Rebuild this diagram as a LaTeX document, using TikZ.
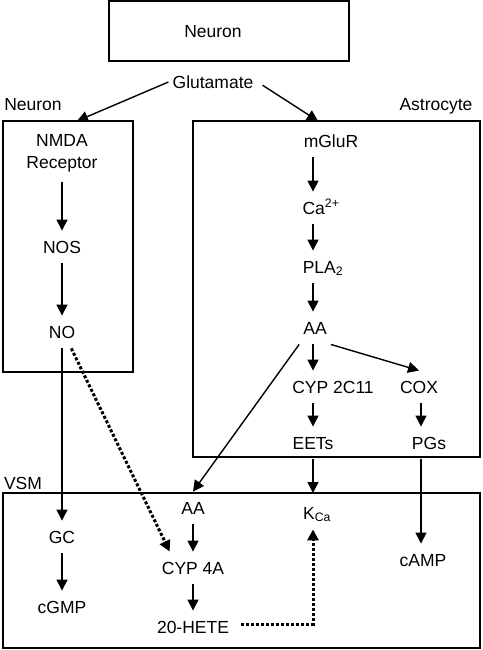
\documentclass[tikz,border=0pt]{standalone}
\usepackage{fontspec}
\setmainfont{Liberation Sans}
\usetikzlibrary{arrows.meta}

\begin{document}
\begin{tikzpicture}[x=1pt, y=-1pt, >={Triangle[width=11pt, length=11pt]},
    txt/.style={font=\fontsize{17.5pt}{22pt}\selectfont, inner xsep=4pt, inner ysep=10pt},
    lbl/.style={txt, text height=12.5pt, text depth=0pt},
    box/.style={draw, line width=2pt, outer sep=0pt, inner sep=0pt},
    flow/.style={->, line width=1.4pt},
    dotflow/.style={->, line width=3pt, dash pattern=on 3pt off 2pt}]
    \useasboundingbox (0,0) rectangle (482,650);

    % Define boxes
    \node[box, minimum width=240pt, minimum height=60pt] (topbox) at (229,31) {};
    \node[box, minimum width=130pt, minimum height=251pt] (neuronbox) at (68,246.5) {};
    \node[box, minimum width=287pt, minimum height=336pt] (astrobox) at (336.5,289) {};
    \node[box, minimum width=477pt, minimum height=155pt] (vsmbox) at (241.5,570.5) {};

    % Region labels
    \node[lbl] (topneuron) at (213,31) {Neuron};
    \node[lbl] (neuronlbl) at (33,104) {Neuron};
    \node[lbl] (astrolbl) at (436,104) {Astrocyte};
    \node[lbl] (vsmlbl) at (23,483) {VSM};
    \node[lbl] (glu) at (213,82) {Glutamate};
    \coordinate (neuronin) at (77,121);
    \coordinate (astroin) at (318,121);

    % Neuron pathway
    \node[txt, align=center] (nmda) at (62,153) {NMDA\\Receptor};
    \node[lbl] (nos) at (62,247) {NOS};
    \node[lbl] (no) at (62,332) {NO};

    % Astrocyte pathway
    \coordinate (colA) at (313,0);
    \coordinate (colB) at (421,0);
    \node[lbl] (mglur) at (331,141) {mGluR};
    \node[lbl] (ca) at (321,208) {Ca\textsuperscript{2+}};
    \node[lbl] (pla) at (323,267) {PLA\textsubscript{2}};
    \node[lbl] (aa) at (315,328) {AA};
    \node[lbl] (cyp2c) at (333,387) {CYP 2C11};
    \node[lbl] (cox) at (419,387) {COX};
    \node[lbl] (eets) at (313,443) {EETs};
    \node[lbl] (pgs) at (429,443) {PGs};

    % VSM pathway
    \node[lbl] (gc) at (62,537) {GC};
    \node[lbl] (cgmp) at (62,607) {cGMP};
    \node[lbl] (vaa) at (193,508) {AA};
    \node[lbl] (cyp4a) at (193,568) {CYP 4A};
    \node[lbl] (hete) at (193,627) {20-HETE};
    \node[lbl] (kca) at (317,513) {K\textsubscript{Ca}};
    \node[lbl] (camp) at (423,560) {cAMP};

    % Draw edges
    \draw[flow] (glu.west) -- (neuronin); % Glutamate -> Neuron
    \draw[flow, shorten <=6pt] (glu.east) -- (astroin); % Glutamate -> Astrocyte
    \draw[flow] (nmda) -- (nos);
    \draw[flow] (nos) -- (no);
    \draw[flow] (no) -- (gc);
    \draw[flow] (gc) -- (cgmp);
    \draw[flow] (mglur.south -| colA) -- (ca.north -| colA);
    \draw[flow] (ca.south -| colA) -- (pla.north -| colA);
    \draw[flow] (pla.south -| colA) -- (aa.north -| colA);
    \draw[flow] (aa.south -| colA) -- (cyp2c.north -| colA);
    \draw[flow] (aa.south east) -- (cox.north);
    \draw[flow] (aa.south west) -- (vaa.north); % AA leaves the astrocyte
    \draw[flow] (cyp2c.south -| colA) -- (eets.north -| colA);
    \draw[flow] (cox.south -| colB) -- (pgs.north -| colB);
    \draw[flow] (eets) -- (eets |- vsmbox.north);
    \draw[flow] (pgs.south -| colB) -- (camp.north -| colB);
    \draw[flow] (vaa) -- (cyp4a);
    \draw[flow] (cyp4a) -- (hete);

    % Dotted edges
    \draw[dotflow] ([xshift=-8pt]no.south east) -- ([xshift=12pt]cyp4a.north west);
    \draw[dotflow, shorten <=8pt] ([yshift=3pt]hete.east) -| (kca.south -| colA);
\end{tikzpicture}
\end{document}
